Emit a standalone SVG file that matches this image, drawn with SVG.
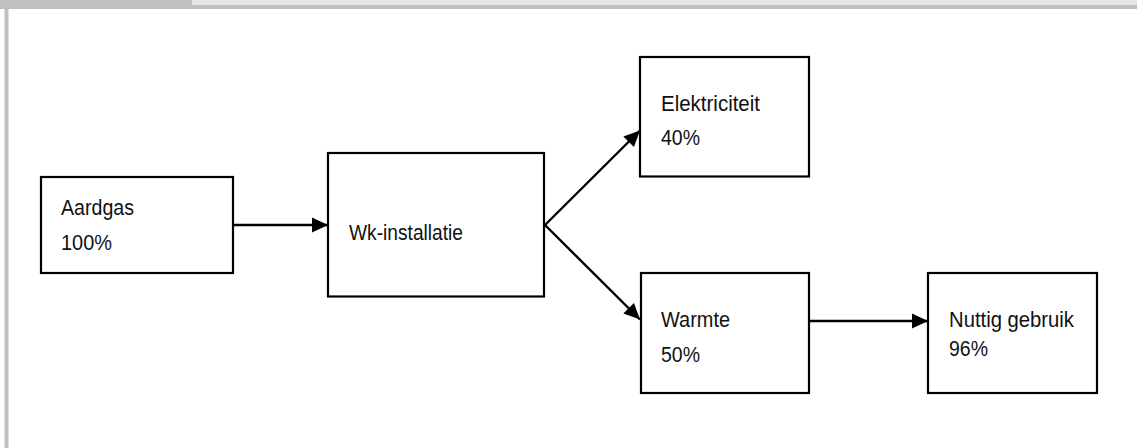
<svg xmlns="http://www.w3.org/2000/svg" width="1137" height="448" viewBox="0 0 1137 448">
  <defs>
    <style>
      .box { fill: #ffffff; stroke: #000000; stroke-width: 2.2; }
      .lbl { font-family: "Liberation Sans", Arial, sans-serif; font-size: 22px; fill: #111111; }
      .conn { stroke: #000000; stroke-width: 2.4; fill: none; marker-end: url(#arrow); }
    </style>
    <marker id="arrow" markerUnits="userSpaceOnUse" markerWidth="17" markerHeight="17" viewBox="0 0 17 17" refX="16" refY="8.5" orient="auto">
      <path d="M0,1 L16,8.5 L0,16 Z" fill="#000000"/>
    </marker>
  </defs>
  <rect x="0" y="0" width="1137" height="448" fill="#ffffff"/>
  <g id="frame">
    <rect x="0" y="0" width="192" height="5" fill="#c0c0c0"/>
    <rect x="192" y="0" width="945" height="5" fill="#e6e6e6"/>
    <rect x="0" y="5" width="1137" height="4" fill="#c0c0c0"/>
    <rect x="4.5" y="5" width="4" height="443" fill="#c0c0c0"/>
  </g>
  <g id="connectors">
    <line class="conn" x1="233" y1="225" x2="328" y2="225"/>
    <line class="conn" x1="545" y1="225" x2="640" y2="130.5"/>
    <line class="conn" x1="545" y1="225" x2="640" y2="319.5"/>
    <line class="conn" x1="809" y1="321" x2="928" y2="321"/>
  </g>
  <g id="aardgas">
    <rect class="box" x="41" y="177" width="192" height="96"/>
    <text class="lbl" x="61" y="215" textLength="73" lengthAdjust="spacingAndGlyphs">Aardgas</text>
    <text class="lbl" x="61" y="250" textLength="51" lengthAdjust="spacingAndGlyphs">100%</text>
  </g>
  <g id="wk-installatie">
    <rect class="box" x="328" y="153" width="216" height="143.5"/>
    <text class="lbl" x="349" y="240" textLength="114" lengthAdjust="spacingAndGlyphs">Wk-installatie</text>
  </g>
  <g id="elektriciteit">
    <rect class="box" x="640" y="57" width="169" height="119.5"/>
    <text class="lbl" x="661" y="111" textLength="99" lengthAdjust="spacingAndGlyphs">Elektriciteit</text>
    <text class="lbl" x="661" y="145" textLength="39" lengthAdjust="spacingAndGlyphs">40%</text>
  </g>
  <g id="warmte">
    <rect class="box" x="641" y="273" width="168" height="120"/>
    <text class="lbl" x="661" y="327" textLength="69" lengthAdjust="spacingAndGlyphs">Warmte</text>
    <text class="lbl" x="661" y="362" textLength="39" lengthAdjust="spacingAndGlyphs">50%</text>
  </g>
  <g id="nuttig-gebruik">
    <rect class="box" x="928" y="273" width="169" height="120"/>
    <text class="lbl" x="949" y="327" textLength="125" lengthAdjust="spacingAndGlyphs">Nuttig gebruik</text>
    <text class="lbl" x="949" y="356" textLength="39" lengthAdjust="spacingAndGlyphs">96%</text>
  </g>
</svg>
